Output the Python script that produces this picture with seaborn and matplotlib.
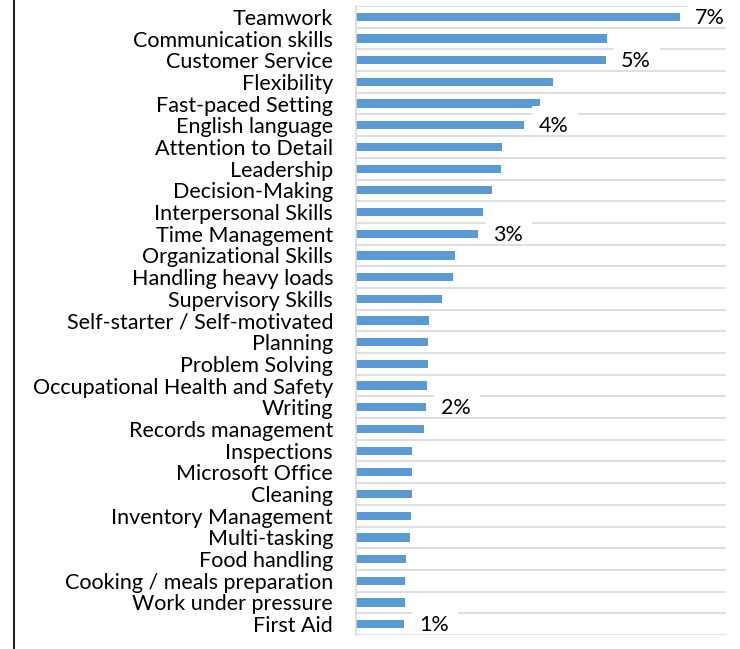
import numpy as np
import pandas as pd
import matplotlib
matplotlib.use('Agg')
import matplotlib.pyplot as plt
from matplotlib.lines import Line2D
from matplotlib.patches import Rectangle
import seaborn as sns

# %% Data (share of job ads, %)
skills = ['Teamwork', 'Communication skills', 'Customer Service', 'Flexibility',
          'Fast-paced Setting', 'English language', 'Attention to Detail',
          'Leadership', 'Decision-Making', 'Interpersonal Skills',
          'Time Management', 'Organizational Skills', 'Handling heavy loads',
          'Supervisory Skills', 'Self-starter / Self-motivated', 'Planning',
          'Problem Solving', 'Occupational Health and Safety', 'Writing',
          'Records management', 'Inspections', 'Microsoft Office', 'Cleaning',
          'Inventory Management', 'Multi-tasking', 'Food handling',
          'Cooking / meals preparation', 'Work under pressure', 'First Aid']
share = [7.01, 5.42, 5.40, 4.25, 3.97, 3.63, 3.15, 3.13, 2.93, 2.74,
         2.64, 2.13, 2.09, 1.85, 1.58, 1.56, 1.55, 1.53, 1.52, 1.48,
         1.21, 1.21, 1.21, 1.19, 1.16, 1.09, 1.07, 1.07, 1.04]
# rows that carry a data label in the original
labelled = ['Teamwork', 'Customer Service', 'English language',
            'Time Management', 'Writing', 'First Aid']

df = pd.DataFrame({'skill': skills, 'share': share})

# %% Plot
sns.set_style('white')
plt.rcParams['font.family'] = ['Lato', 'DejaVu Sans']
fs = 15.5

fig = plt.figure(figsize=(7.4, 6.49), dpi=100)
ax = fig.add_axes([356 / 740, 1 - 635 / 649, 370 / 740, 629 / 649])

sns.barplot(data=df, x='share', y='skill', orient='h', color='#5B9BD5',
            width=0.38, saturation=1, linewidth=0, ax=ax)

ax.set_xlim(0, 8)
ax.set_ylim(len(skills) - 0.5, -0.5)
ax.set_xlabel(None)
ax.set_ylabel(None)
ax.set_xticks([])

# gridlines between categories, ticks poke out left of the axis
ax.set_yticks(np.arange(-0.5, len(skills), 1), minor=True)
ax.grid(which='minor', axis='y', color='#D9D9D9', lw=1.2)
ax.set_axisbelow(True)
ax.tick_params(axis='y', which='major', length=0, pad=16.5, labelsize=fs,
               labelcolor='black')
ax.tick_params(axis='y', which='minor', length=6, width=1.2, color='#D9D9D9')

for side in ['top', 'right', 'bottom']:
    ax.spines[side].set_visible(False)
ax.spines['left'].set_color('#D9D9D9')
ax.spines['left'].set_linewidth(1.2)

# data labels: Excel-style white label box sits a little high, text on top
for i, (s, v) in enumerate(zip(skills, share)):
    if s in labelled:
        ax.add_patch(Rectangle((v + 0.17, i - 0.9), 1.0, 1.3, facecolor='white',
                               edgecolor='none', zorder=4, clip_on=False))
        ax.text(v + 0.65, i + 0.05, f'{v:.0f}%', va='center', ha='center',
                fontsize=fs, color='black', zorder=5, clip_on=False)

# frame line at the left edge of the picture
fig.add_artist(Line2D([13.5 / 740, 13.5 / 740], [0, 1], color='#202020', lw=1.5))

fig.savefig('out.png', dpi=100)
